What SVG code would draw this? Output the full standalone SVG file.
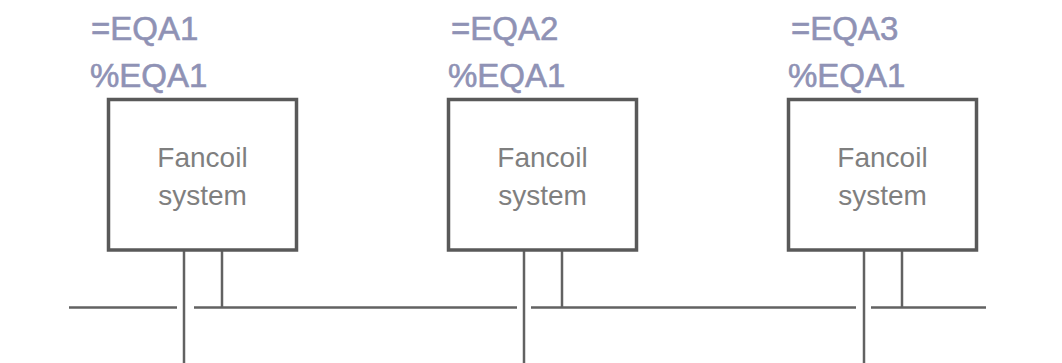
<svg xmlns="http://www.w3.org/2000/svg" width="1062" height="363" viewBox="0 0 1062 363">
<style>
.box{fill:#fff;stroke:#595959;stroke-width:3.5}
.lbl{font-family:"Liberation Sans",Arial,sans-serif;font-size:33px;fill:#8f92b5;stroke:#8f92b5;stroke-width:0.6}
.txt{font-family:"Liberation Sans",Arial,sans-serif;font-size:28px;fill:#7f7f7f;text-anchor:middle}
.ln{stroke:#626262;stroke-width:2.5;fill:none}
</style>
<rect width="1062" height="363" fill="#fff"/>
<g id="connectors">
<line class="ln" x1="69" y1="307.5" x2="177" y2="307.5"/>
<line class="ln" x1="194" y1="307.5" x2="517" y2="307.5"/>
<line class="ln" x1="531" y1="307.5" x2="856" y2="307.5"/>
<line class="ln" x1="871" y1="307.5" x2="986" y2="307.5"/>
<line class="ln" x1="184" y1="251" x2="184" y2="363"/>
<line class="ln" x1="222" y1="251" x2="222" y2="307.5"/>
<line class="ln" x1="524" y1="251" x2="524" y2="363"/>
<line class="ln" x1="562" y1="251" x2="562" y2="307.5"/>
<line class="ln" x1="864" y1="251" x2="864" y2="363"/>
<line class="ln" x1="902" y1="251" x2="902" y2="307.5"/>
</g>
<g id="node1">
<text class="lbl" x="91" y="40">=EQA1</text>
<text class="lbl" x="90" y="87">%EQA1</text>
<rect class="box" x="108.5" y="99.5" width="188" height="150.5"/>
<text class="txt" x="202.5" y="167">Fancoil</text>
<text class="txt" x="202.5" y="205">system</text>
</g>
<g id="node2">
<text class="lbl" x="451" y="40">=EQA2</text>
<text class="lbl" x="448" y="87">%EQA1</text>
<rect class="box" x="448.5" y="99.5" width="188" height="150.5"/>
<text class="txt" x="542.5" y="167">Fancoil</text>
<text class="txt" x="542.5" y="205">system</text>
</g>
<g id="node3">
<text class="lbl" x="791" y="40">=EQA3</text>
<text class="lbl" x="788" y="87">%EQA1</text>
<rect class="box" x="788.5" y="99.5" width="188" height="150.5"/>
<text class="txt" x="882.5" y="167">Fancoil</text>
<text class="txt" x="882.5" y="205">system</text>
</g>
</svg>
